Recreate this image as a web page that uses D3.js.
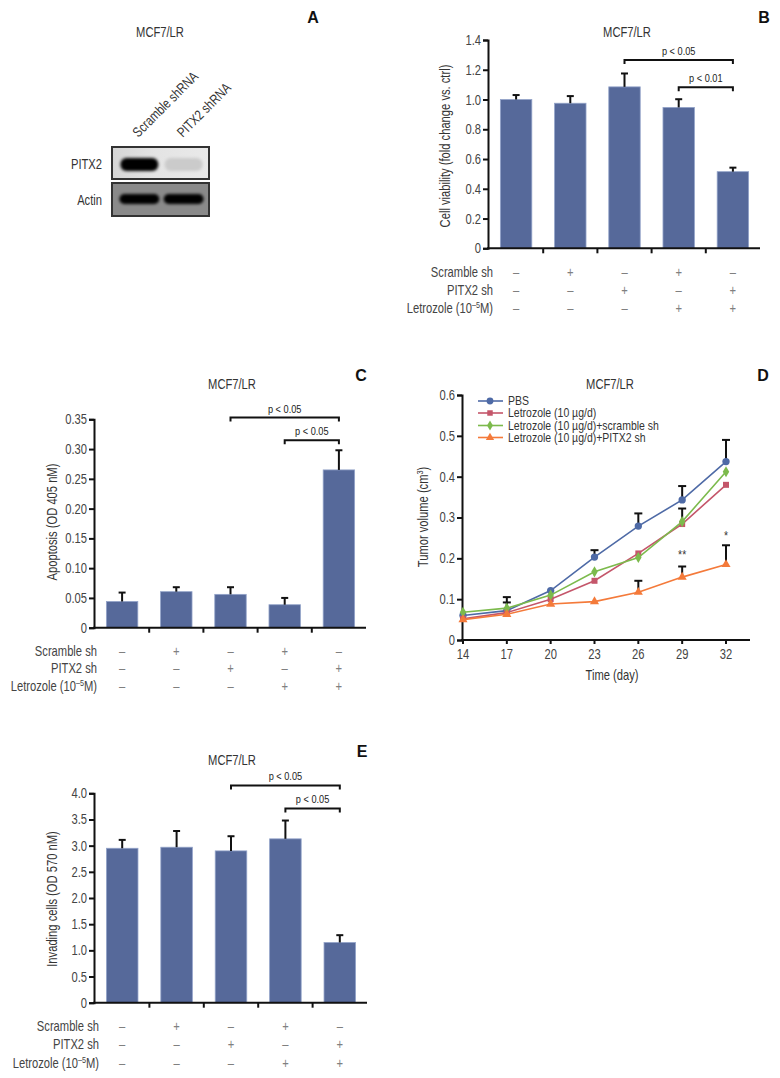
<!DOCTYPE html>
<html><head><meta charset="utf-8">
<script src="https://cdn.jsdelivr.net/npm/d3@7/dist/d3.min.js"></script>
<style>
html,body{margin:0;padding:0;background:#fff;}
svg{display:block;}
</style></head>
<body><svg id="c" width="780" height="1078"></svg>
<script>
// ---------- DATA ----------
const groups = ["g1", "g2", "g3", "g4", "g5"];
const rowNames = ["Scramble sh", "PITX2 sh", "Letrozole"];
const scrambleSh = ["–", "+", "–", "+", "–"];
const pitx2Sh = ["–", "–", "+", "–", "+"];
const letrozole = ["–", "–", "–", "+", "+"];

// Panel A (western blot)
const lanes = ["Scramble shRNA", "PITX2 shRNA"];
const pitx2Band = [1.0, 0.07];
const actinBand = [1.0, 0.97];

// Panel B
const viabilityMean = [1.0, 0.975, 1.085, 0.947, 0.515];
const viabilityErr = [0.03, 0.048, 0.09, 0.055, 0.027];
const viabilityTicks = [0, 0.2, 0.4, 0.6, 0.8, 1.0, 1.2, 1.4];
const viabilityBrackets = [[2, 4, 1.265, "p < 0.05"], [3, 4, 1.082, "p < 0.01"]];

// Panel C
const apoptosisMean = [0.044, 0.0605, 0.056, 0.0386, 0.265];
const apoptosisErr = [0.015, 0.0075, 0.012, 0.0114, 0.033];
const apoptosisTicks = [0, 0.05, 0.10, 0.15, 0.20, 0.25, 0.30, 0.35];
const apoptosisBrackets = [[2, 4, 0.353, "p < 0.05"], [3, 4, 0.315, "p < 0.05"]];

// Panel E
const invasionMean = [2.95, 2.97, 2.90, 3.13, 1.15];
const invasionErr = [0.16, 0.31, 0.28, 0.35, 0.14];
const invasionTicks = [0, 0.5, 1.0, 1.5, 2.0, 2.5, 3.0, 3.5, 4.0];
const invasionBrackets = [[2, 4, 4.15, "p < 0.05"], [3, 4, 3.71, "p < 0.05"]];

// Panel D
const days = [14, 17, 20, 23, 26, 29, 32];
const volumeTicks = [0, 0.1, 0.2, 0.3, 0.4, 0.5, 0.6];
const seriesNames = ["PBS", "Letrozole (10 µg/d)", "Letrozole (10 µg/d)+scramble sh", "Letrozole (10 µg/d)+PITX2 sh"];
const pbs = [0.060, 0.072, 0.121, 0.203, 0.279, 0.343, 0.437];
const letro = [0.052, 0.067, 0.100, 0.145, 0.212, 0.284, 0.380];
const letroScr = [0.068, 0.078, 0.110, 0.167, 0.202, 0.290, 0.412];
const letroPitx2 = [0.050, 0.063, 0.088, 0.094, 0.117, 0.154, 0.185];
const pbsErr = [null, 0.033, null, 0.017, 0.031, 0.034, 0.053];
const letroErr = [null, null, null, null, null, null, null];
const letroScrErr = [null, 0.014, null, null, null, 0.032, null];
const letroPitx2Err = [null, null, null, null, 0.028, 0.026, 0.047];
const sigMarks = [[29, 0.21, "**"], [32, 0.257, "*"]];

// ---------- STYLE ----------
const FONT = "'Liberation Sans',Arial,sans-serif";
const SQUEEZE = 0.8;
const BAR = "#56699a";
const AX = "#111";
const TXT = "#444";

const svg = d3.select("#c");
svg.style("font-family", FONT);

const defs = svg.append("defs");
defs.append("filter").attr("id", "blur").attr("x", "-30%").attr("y", "-80%").attr("width", "160%").attr("height", "260%")
  .append("feGaussianBlur").attr("stdDeviation", 1.7);
const lg = defs.append("linearGradient").attr("id", "pitbg").attr("x1", 0).attr("x2", 1).attr("y1", 0).attr("y2", 0);
lg.append("stop").attr("offset", "0%").attr("stop-color", "#d6d6d6");
lg.append("stop").attr("offset", "45%").attr("stop-color", "#e4e4e4");
lg.append("stop").attr("offset", "100%").attr("stop-color", "#e9e9e9");

function titleText(x, y, t) {
  svg.append("text").attr("x", x).attr("y", y).attr("text-anchor", "middle")
    .attr("font-size", 14).attr("fill", "#333").text(t);
}
function letterText(x, y, t) {
  svg.append("text").attr("class", "nocomp").attr("x", x).attr("y", y).attr("text-anchor", "middle")
    .attr("font-size", 16).attr("font-weight", "bold").attr("font-family", "'Liberation Sans',Arial,sans-serif")
    .attr("fill", "#111").text(t);
}

// ---------- PANEL A ----------
(function () {
  titleText(160, 37, "MCF7/LR");
  letterText(313, 23, "A");
  const x = d3.scaleBand().domain(lanes).range([115, 208]).padding(0.1);
  const g = svg.append("g");
  const boxX = 112, boxW = 97;
  const pitY = 147, pitH = 32, actY = 183, actH = 33;
  g.append("rect").attr("x", boxX).attr("y", pitY).attr("width", boxW).attr("height", pitH)
    .attr("fill", "url(#pitbg)");
  g.append("rect").attr("x", boxX).attr("y", actY).attr("width", boxW).attr("height", actH)
    .attr("fill", "#8a8a8a");
  const ic = d3.scaleLinear().domain([0, 1]).range([218, 5]);
  g.selectAll(".pb").data(lanes).join("rect")
    .attr("x", d => x(d) + 1).attr("width", x.bandwidth() - 2)
    .attr("y", 158).attr("height", 13).attr("rx", 6)
    .attr("fill", (d, i) => { const v = Math.round(ic(pitx2Band[i])); return `rgb(${v},${v},${v})`; })
    .attr("filter", "url(#blur)");
  g.selectAll(".ab").data(lanes).join("rect")
    .attr("x", d => x(d)).attr("width", x.bandwidth())
    .attr("y", 194).attr("height", 10).attr("rx", 5)
    .attr("fill", (d, i) => { const v = Math.round(ic(actinBand[i]) * 0.4); return `rgb(${v},${v},${v})`; })
    .attr("filter", "url(#blur)");
  g.append("rect").attr("x", boxX).attr("y", pitY).attr("width", boxW).attr("height", pitH)
    .attr("fill", "none").attr("stroke", "#333").attr("stroke-width", 2);
  g.append("rect").attr("x", boxX).attr("y", actY).attr("width", boxW).attr("height", actH)
    .attr("fill", "none").attr("stroke", "#333").attr("stroke-width", 2);
  g.append("text").attr("x", 102).attr("y", 169).attr("text-anchor", "end").attr("font-size", 14).attr("fill", "#333").text("PITX2");
  g.append("text").attr("x", 102).attr("y", 205).attr("text-anchor", "end").attr("font-size", 14).attr("fill", "#333").text("Actin");
  g.selectAll(".ll").data(lanes).join("text")
    .attr("transform", d => `translate(${x(d) + x.bandwidth() / 2 - 1},${138}) rotate(-45)`)
    .attr("font-size", 14).attr("fill", "#333").text(d => d);
})();

// ---------- BAR PANEL ----------
function barPanel(c) {
  const x = d3.scaleBand().domain(groups).range([c.x0, c.x1]).paddingInner(0.42).paddingOuter(0.21);
  const y = d3.scaleLinear().domain([0, c.max]).range([c.yb, c.yt]);
  const g = svg.append("g");
  g.selectAll(".bar").data(c.mean).join("rect")
    .attr("x", (d, i) => x(groups[i])).attr("width", x.bandwidth())
    .attr("y", d => y(d)).attr("height", d => y(0) - y(d))
    .attr("fill", BAR).attr("stroke", "#93a3c9").attr("stroke-width", 0.8);
  const cx = i => x(groups[i]) + x.bandwidth() / 2;
  g.selectAll(".eb").data(c.mean).join("line")
    .attr("x1", (d, i) => cx(i)).attr("x2", (d, i) => cx(i))
    .attr("y1", d => y(d)).attr("y2", (d, i) => y(d + c.err[i]))
    .attr("stroke", AX).attr("stroke-width", 2);
  g.selectAll(".ec").data(c.mean).join("line")
    .attr("x1", (d, i) => cx(i) - 3.5).attr("x2", (d, i) => cx(i) + 3.5)
    .attr("y1", (d, i) => y(d + c.err[i])).attr("y2", (d, i) => y(d + c.err[i]))
    .attr("stroke", AX).attr("stroke-width", 2);
  const ya = d3.axisLeft(y).tickValues(c.ticks).tickSize(5).tickFormat(c.fmt);
  const yg = g.append("g").attr("transform", `translate(${c.x0 - 1},0)`).call(ya);
  yg.select(".domain").attr("stroke", AX).attr("stroke-width", 2);
  yg.selectAll(".tick line").attr("stroke", AX).attr("stroke-width", 2);
  yg.selectAll(".tick text").attr("font-size", 14).attr("fill", TXT).attr("font-family", FONT).attr("x", -7);
  g.append("line").attr("x1", c.x0 - 2).attr("x2", c.x1).attr("y1", y(0)).attr("y2", y(0))
    .attr("stroke", AX).attr("stroke-width", 2);
  const step = x.step();
  g.selectAll(".sep").data(groups.slice(1)).join("line")
    .attr("x1", d => x(d) - step * 0.42 / 2).attr("x2", d => x(d) - step * 0.42 / 2)
    .attr("y1", y(0)).attr("y2", y(0) + 5).attr("stroke", AX).attr("stroke-width", 2);
  g.append("text").attr("transform", `translate(${c.ylx},${c.yly}) rotate(-90)`)
    .attr("text-anchor", "middle").attr("font-size", 14).attr("fill", "#333").text(c.ylabel);
  c.brackets.forEach(b => {
    const xa = cx(b[0]), xb = cx(b[1]), yy = y(b[2]);
    g.append("path").attr("d", `M${xa},${yy + 4}V${yy}H${xb}V${yy + 4}`)
      .attr("fill", "none").attr("stroke", AX).attr("stroke-width", 2);
    g.append("text").attr("x", (xa + xb) / 2).attr("y", yy - 5).attr("text-anchor", "middle")
      .attr("font-size", 11.5).attr("fill", "#222").text(b[3]);
  });
  titleText(c.tx, c.ty, "MCF7/LR");
  letterText(c.lx, c.ly, c.letter);
  const rows = [scrambleSh, pitx2Sh, letrozole];
  rows.forEach((r, ri) => {
    const yy = c.rowY[ri];
    const lab = g.append("text").attr("x", c.rowX).attr("y", yy + 5).attr("text-anchor", "end")
      .attr("font-size", 14).attr("fill", TXT);
    if (ri < 2) lab.text(rowNames[ri]);
    else {
      lab.append("tspan").text("Letrozole (10");
      lab.append("tspan").attr("font-size", 9).attr("dy", -5).text("–5");
      lab.append("tspan").attr("dy", 5).text("M)");
    }
    g.selectAll(".sym" + ri).data(r).join("text")
      .attr("x", (d, i) => cx(i)).attr("y", yy + 5).attr("text-anchor", "middle")
      .attr("font-size", 14).attr("fill", "#808080").text(d => d);
  });
}

barPanel({
  x0: 489, x1: 760, yb: 248.3, yt: 40, max: 1.4, mean: viabilityMean, err: viabilityErr,
  ticks: viabilityTicks, fmt: d => d === 0 ? "0" : d3.format(".1f")(d),
  ylabel: "Cell viability (fold change vs. ctrl)", ylx: 450, yly: 146,
  brackets: viabilityBrackets, tx: 627, ty: 37, lx: 764, ly: 23, letter: "B",
  rowX: 493, rowY: [272, 290, 308]
});
barPanel({
  x0: 95, x1: 366, yb: 627.7, yt: 419.3, max: 0.35, mean: apoptosisMean, err: apoptosisErr,
  ticks: apoptosisTicks, fmt: d => d === 0 ? "0" : d3.format(".2f")(d),
  ylabel: "Apoptosis (OD 405 nM)", ylx: 57, yly: 522,
  brackets: apoptosisBrackets, tx: 232, ty: 389, lx: 361, ly: 381, letter: "C",
  rowX: 97, rowY: [651, 668.5, 686]
});
barPanel({
  x0: 95, x1: 367, yb: 1002.7, yt: 793.3, max: 4.0, mean: invasionMean, err: invasionErr,
  ticks: invasionTicks, fmt: d => d === 0 ? "0" : d3.format(".1f")(d),
  ylabel: "Invading cells (OD 570 nM)", ylx: 57, yly: 899,
  brackets: invasionBrackets, tx: 232, ty: 765, lx: 362, ly: 757, letter: "E",
  rowX: 99, rowY: [1026, 1044, 1063]
});

// ---------- PANEL D ----------
(function () {
  const x = d3.scaleLinear().domain([14, 32]).range([463, 726]);
  const y = d3.scaleLinear().domain([0, 0.6]).range([640, 395]);
  const g = svg.append("g");
  const series = [
    { name: seriesNames[0], v: pbs, e: pbsErr, color: "#4e6aa6", sym: d3.symbolCircle, size: 42 },
    { name: seriesNames[1], v: letro, e: letroErr, color: "#c4566a", sym: d3.symbolSquare, size: 36 },
    { name: seriesNames[2], v: letroScr, e: letroScrErr, color: "#7cba4c", sym: d3.symbolDiamond, size: 36 },
    { name: seriesNames[3], v: letroPitx2, e: letroPitx2Err, color: "#f47a3a", sym: d3.symbolTriangle, size: 36 }
  ];
  const ya = d3.axisLeft(y).tickValues(volumeTicks).tickSize(5).tickFormat(d => d === 0 ? "0" : d3.format(".1f")(d));
  const yg = g.append("g").attr("transform", "translate(462,0)").call(ya);
  yg.select(".domain").attr("stroke", AX).attr("stroke-width", 2);
  yg.selectAll(".tick line").attr("stroke", AX).attr("stroke-width", 2);
  yg.selectAll(".tick text").attr("font-size", 14).attr("fill", TXT).attr("font-family", FONT).attr("x", -7);
  g.append("line").attr("x1", 461).attr("x2", 750).attr("y1", y(0)).attr("y2", y(0)).attr("stroke", AX).attr("stroke-width", 2);
  g.selectAll(".xt").data(days).join("line")
    .attr("x1", d => x(d)).attr("x2", d => x(d)).attr("y1", y(0)).attr("y2", y(0) + 4)
    .attr("stroke", AX).attr("stroke-width", 2);
  g.selectAll(".xl").data(days).join("text")
    .attr("x", d => x(d)).attr("y", 659).attr("text-anchor", "middle")
    .attr("font-size", 14).attr("fill", TXT).text(d => d);
  g.append("text").attr("x", 612).attr("y", 680).attr("text-anchor", "middle").attr("font-size", 14).attr("fill", "#333").text("Time (day)");
  const yl = g.append("text").attr("transform", "translate(428,517) rotate(-90)").attr("text-anchor", "middle")
    .attr("font-size", 14).attr("fill", "#333");
  yl.append("tspan").text("Tumor volume (cm");
  yl.append("tspan").attr("font-size", 9).attr("dy", -5).text("3");
  yl.append("tspan").attr("dy", 5).text(")");
  series.forEach(s => {
    s.v.forEach((v, i) => {
      if (s.e[i] == null) return;
      const xx = x(days[i]), top = y(v + s.e[i]);
      g.append("line").attr("x1", xx).attr("x2", xx).attr("y1", y(v)).attr("y2", top).attr("stroke", AX).attr("stroke-width", 2);
      g.append("line").attr("x1", xx - 4).attr("x2", xx + 4).attr("y1", top).attr("y2", top).attr("stroke", AX).attr("stroke-width", 2);
    });
  });
  const line = d3.line().x((d, i) => x(days[i])).y(d => y(d));
  series.forEach(s => {
    g.append("path").attr("d", line(s.v)).attr("fill", "none").attr("stroke", s.color).attr("stroke-width", 1.6);
    g.selectAll(null).data(s.v).join("path")
      .attr("transform", (d, i) => `translate(${x(days[i])},${y(d)})`)
      .attr("d", d3.symbol().type(s.sym).size(s.size)).attr("fill", s.color);
  });
  sigMarks.forEach(m => {
    g.append("text").attr("x", x(m[0])).attr("y", y(m[1]) + 5).attr("text-anchor", "middle")
      .attr("font-size", 13).attr("fill", "#333").text(m[2]);
  });
  const ly = [401, 413, 425.5, 437.5];
  series.forEach((s, i) => {
    g.append("line").attr("x1", 478).attr("x2", 503).attr("y1", ly[i]).attr("y2", ly[i]).attr("stroke", s.color).attr("stroke-width", 1.6);
    g.append("path").attr("transform", `translate(490,${ly[i]})`).attr("d", d3.symbol().type(s.sym).size(s.size - 6)).attr("fill", s.color);
    g.append("text").attr("x", 508).attr("y", ly[i] + 4.5).attr("font-size", 12.5).attr("fill", "#333").text(s.name);
  });
  titleText(610, 389, "MCF7/LR");
  letterText(763, 381, "D");
})();

// narrow (condensed) look: squeeze every text horizontally about its anchor
svg.selectAll("text").filter(function () { return !this.classList.contains("nocomp"); }).each(function () {
  const t = d3.select(this);
  const x = +t.attr("x") || 0, y = +t.attr("y") || 0;
  const tr = t.attr("transform") || "";
  const fs = +t.attr("font-size") || 14;
  const s = fs < 13 && fs > 12 ? 0.84 : SQUEEZE;
  t.attr("transform", `${tr} translate(${x},${y}) scale(${s},1) translate(${-x},${-y})`);
});
</script>
</body></html>
